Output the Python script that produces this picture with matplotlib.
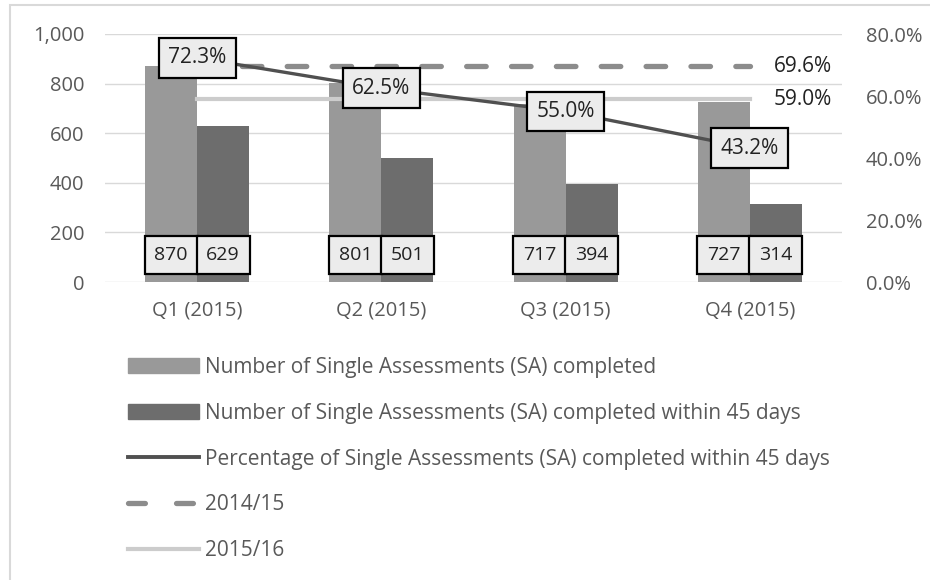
import matplotlib
matplotlib.use("Agg")
import matplotlib.pyplot as plt
import numpy as np
from matplotlib.patches import Patch, Rectangle
from matplotlib.lines import Line2D
from matplotlib.ticker import FuncFormatter

quarters = ["Q1 (2015)", "Q2 (2015)", "Q3 (2015)", "Q4 (2015)"]
sa_completed = [870, 801, 717, 727]
sa_within_45 = [629, 501, 394, 314]
pct_within_45 = [72.3, 62.5, 55.0, 43.2]
target_1415 = 69.6
target_1516 = 59.0

plt.rcParams.update({"font.family": ["Open Sans", "DejaVu Sans"], "font.size": 14})
C_LIGHT = "#999999"; C_DARK = "#6d6d6d"; C_LINE = "#505050"
C_DASH = "#8c8c8c"; C_1516 = "#cccccc"; C_TICK = "#595959"; C_GRID = "#d9d9d9"
BOX = dict(boxstyle="square,pad=0.45", fc="#ececec", ec="black", lw=1.6)
BOX_BAR = dict(boxstyle="square,pad=0.5", fc="#ececec", ec="black", lw=1.6)

fig = plt.figure(figsize=(9.3, 5.8), dpi=100, facecolor="white")
fig.patches.append(Rectangle((10/930, -0.1), 1.2, 1.1 - 5/580, transform=fig.transFigure,
                             fill=False, ec="#d9d9d9", lw=1.5))
ax = fig.add_axes([105/930, 1-282/580, 737/930, 248/580])
ax2 = ax.twinx()

x = np.arange(len(quarters)); w = 0.282
ax.bar(x - w/2, sa_completed, w, color=C_LIGHT, zorder=2)
ax.bar(x + w/2, sa_within_45, w, color=C_DARK, zorder=2)
for xs, vals in ((x - w/2, sa_completed), (x + w/2, sa_within_45)):
    for xi, v in zip(xs, vals):
        ax.annotate(str(v), (xi, 0), xytext=(0, 19.5), textcoords="offset points", ha="center",
                    va="center", fontsize=14, color="#222222", bbox=BOX_BAR, zorder=5)

ax.set_xlim(-0.5, 3.5); ax.set_ylim(0, 1000)
ax.set_yticks(np.arange(0, 1001, 200))
ax.yaxis.set_major_formatter(FuncFormatter(lambda v, p: f"{v:,.0f}"))
ax.set_xticks(x); ax.set_xticklabels(quarters)
ax.grid(axis="y", color=C_GRID, lw=1, zorder=0)
ax.set_axisbelow(True)
for a in (ax, ax2):
    for s in a.spines.values(): s.set_visible(False)
    a.tick_params(length=0, colors=C_TICK, labelsize=14.5)
ax.tick_params(axis="y", pad=15); ax.tick_params(axis="x", pad=13)
ax2.tick_params(axis="y", pad=17)

# lines on secondary axis (fractions)
ax2.set_ylim(0, 0.8); ax2.set_yticks(np.arange(0, 0.81, 0.2))
ax2.yaxis.set_major_formatter(FuncFormatter(lambda v, p: f"{v*100:.1f}%"))
ax2.plot(x, [target_1415/100]*len(x), color=C_DASH, lw=3.8, ls=(0, (3.7, 4.8)),
         dash_capstyle="round", zorder=3)
ax2.plot(x, [target_1516/100]*len(x), color=C_1516, lw=3, zorder=3)
ax2.plot(x, np.array(pct_within_45)/100, color=C_LINE, lw=2.4, zorder=4)
for xi, v in zip(x, pct_within_45):
    ax2.annotate(f"{v:.1f}%", (xi, v/100), ha="center", va="center", fontsize=15,
                 color="#222222", bbox=BOX, zorder=6)
for v in (target_1415, target_1516):
    ax2.annotate(f"{v:.1f}%", (x[-1], v/100), xytext=(17, 0),
                 textcoords="offset points", ha="left", va="center", fontsize=15, color="#222222")

handles = [Patch(color=C_LIGHT), Patch(color=C_DARK),
           Line2D([], [], color=C_LINE, lw=2.8),
           Line2D([], [], color=C_DASH, lw=3.8, ls=(0, (3.2, 5.9)), dash_capstyle="round"),
           Line2D([], [], color=C_1516, lw=3)]
labels = ["Number of Single Assessments (SA) completed",
          "Number of Single Assessments (SA) completed within 45 days",
          "Percentage of Single Assessments (SA) completed within 45 days",
          "2014/15", "2015/16"]
leg = fig.legend(handles, labels, loc="upper left", bbox_to_anchor=(128/930, 1-357/580),
                 frameon=False, fontsize=15, handlelength=3.4, handleheight=0.7,
                 handletextpad=0.3, labelspacing=1.19, borderaxespad=0, borderpad=0)
for t in leg.get_texts(): t.set_color(C_TICK)

fig.savefig("out.png", dpi=100, facecolor="white")
